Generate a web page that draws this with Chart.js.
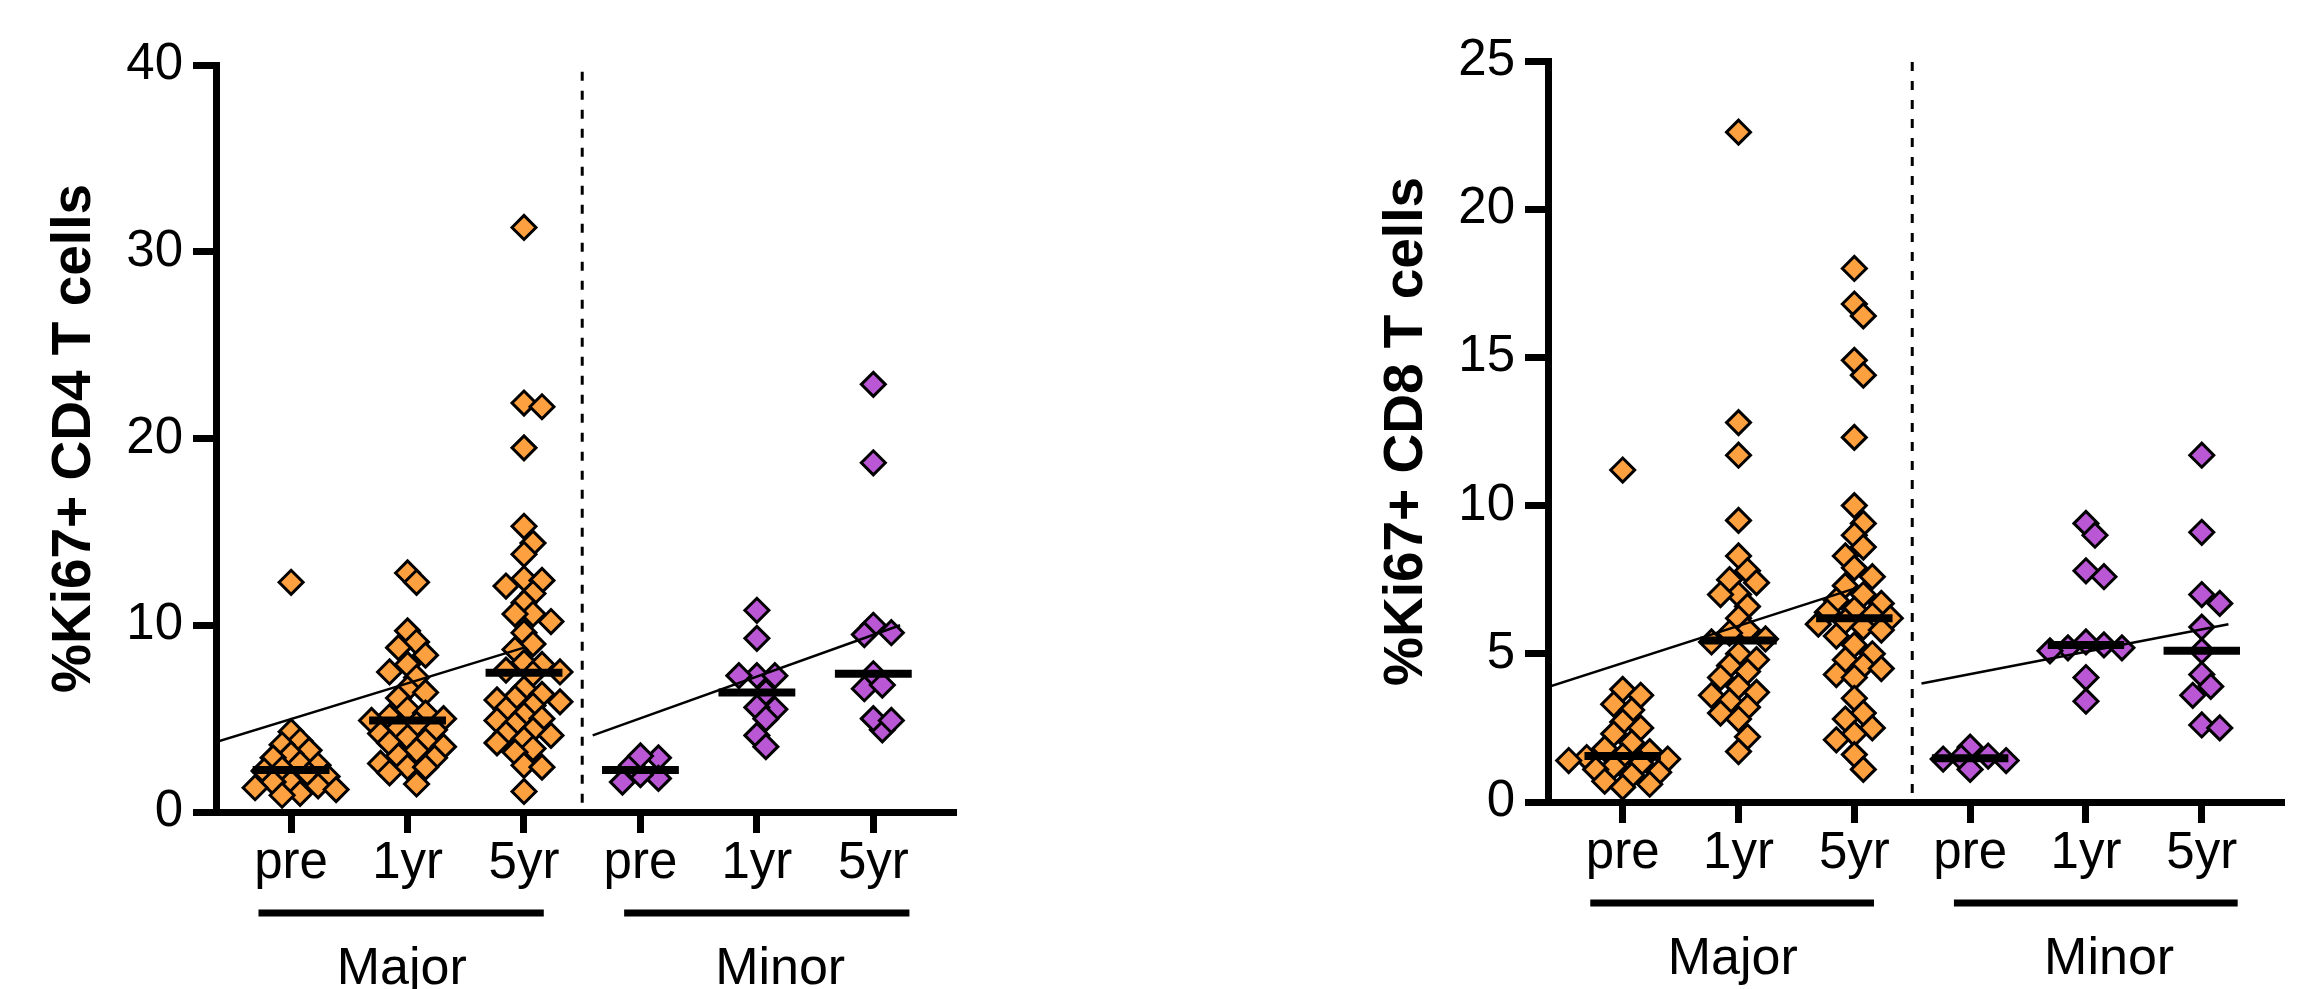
<!DOCTYPE html>
<html>
<head>
<meta charset="utf-8">
<script src="https://cdn.jsdelivr.net/npm/chart.js@4.4.1/dist/chart.umd.min.js"></script>
<style>
  html, body { margin: 0; padding: 0; background: #fff; }
  body { width: 2299px; height: 989px; position: relative; overflow: hidden; }
  canvas { position: absolute; top: 0; }
  #cd4 { left: 0; }
  #cd8 { left: 1332px; }
</style>
</head>
<body>
<canvas id="cd4" width="971" height="989"></canvas>
<canvas id="cd8" width="967" height="989"></canvas>
<script>
//
// Data
//

var timepoints = ['pre', '1yr', '5yr', 'pre', '1yr', '5yr'];
var groups = ['Major', 'Minor'];

// %Ki67+ CD4 T cells
var cd4MajorPre = [12.3, 4.3, 3.8, 3.6, 3.3, 3.1, 2.9, 2.6, 2.5, 2.3, 2.2, 2.0, 1.9, 1.6, 1.6, 1.4, 1.3, 1.2, 1.0, 0.9];
var cd4Major1yr = [12.8, 12.3, 9.7, 9.1, 8.8, 8.4, 7.9, 7.5, 7.2, 6.6, 6.4, 6.1, 5.5, 5.3, 5.1, 5.0, 4.9, 4.7, 4.5, 4.4, 4.2, 4.0, 3.8, 3.7, 3.5, 3.3, 3.0, 2.9, 2.6, 2.4, 2.4, 2.1, 1.5];
var cd4Major5yr = [31.3, 21.9, 21.7, 19.5, 15.3, 14.4, 13.8, 12.5, 12.4, 12.1, 11.7, 11.2, 10.6, 10.6, 10.2, 9.6, 9.0, 8.7, 8.0, 7.9, 7.6, 7.5, 7.4, 6.6, 6.3, 6.1, 6.0, 5.9, 5.7, 5.5, 5.2, 5.0, 4.9, 4.7, 4.4, 4.2, 4.1, 3.9, 3.7, 3.4, 3.2, 2.5, 2.4, 1.1];
var cd4MinorPre = [2.9, 1.8, 2.0, 2.5, 3.0, 1.6];
var cd4Minor1yr = [10.8, 9.3, 7.3, 7.3, 7.3, 6.4, 5.5, 5.6, 5.0, 4.1, 3.5];
var cd4Minor5yr = [22.9, 18.7, 9.6, 10.0, 9.5, 7.4, 6.6, 6.8, 4.4, 5.0, 4.9];
// trend lines: [start, end] values
var cd4TrendMajor = [3.75, 8.8];
var cd4TrendMinor = [4.1, 10.0];

// %Ki67+ CD8 T cells
var cd8MajorPre = [11.2, 3.8, 3.6, 3.3, 3.1, 2.7, 2.5, 2.3, 2.0, 1.8, 1.7, 1.55, 1.5, 1.45, 1.4, 1.3, 1.2, 1.1, 1.0, 0.9, 0.7, 0.6, 0.5];
var cd8Major1yr = [22.6, 12.8, 11.7, 9.5, 8.3, 7.8, 7.5, 7.4, 7.0, 7.0, 6.6, 6.2, 5.8, 5.7, 5.5, 5.4, 5.0, 4.8, 4.6, 4.4, 4.2, 3.9, 3.7, 3.6, 3.4, 3.2, 3.0, 2.8, 2.2, 1.7];
var cd8Major5yr = [18.0, 16.8, 16.4, 14.9, 14.4, 12.3, 10.0, 9.4, 9.0, 8.6, 8.3, 7.9, 7.6, 7.3, 7.0, 6.8, 6.7, 6.5, 6.4, 6.3, 6.2, 6.1, 6.0, 5.9, 5.8, 5.6, 5.3, 5.0, 4.8, 4.6, 4.5, 4.3, 4.2, 3.5, 3.0, 2.8, 2.5, 2.3, 2.1, 1.6, 1.1];
var cd8MinorPre = [1.4, 1.85, 1.45, 1.5, 1.1, 1.55];
var cd8Minor1yr = [9.4, 9.0, 7.8, 7.6, 5.2, 5.4, 5.1, 5.3, 5.2, 4.2, 3.4];
var cd8Minor5yr = [11.7, 9.1, 7.0, 6.7, 5.9, 5.1, 4.3, 3.9, 3.6, 2.6, 2.5];
var cd8TrendMajor = [3.88, 7.2];
var cd8TrendMinor = [4.0, 6.0];


//
// Settings
//

var ORANGE = '#FDA040';
var PURPLE = '#BA57D4';
var X_MIN = -0.645;
var X_MAX = 5.71;
var FONT = '"Liberation Sans", Arial, sans-serif';

Chart.defaults.font.family = FONT;
Chart.defaults.color = '#000';


//
// Methods
//

function median(values) {
	var s = values.slice().sort(function (a, b) { return a - b; });
	var n = s.length;
	return n % 2 ? s[(n - 1) / 2] : (s[n / 2 - 1] + s[n / 2]) / 2;
}

// spread the points of one column sideways so the diamonds do not pile up
function swarm(values, column, pxCat, pxUnit) {
	var step = 9, minDist = 18;
	var placed = [];
	var out = new Array(values.length);
	var order = values.map(function (v, i) { return i; })
		.sort(function (a, b) { return values[b] - values[a]; });

	order.forEach(function (i) {
		var py = values[i] * pxUnit;
		for (var k = 0; k < 60; k++) {
			var dx = k === 0 ? 0 : Math.ceil(k / 2) * step * (k % 2 ? 1 : -1);
			var free = placed.every(function (p) {
				return Math.abs(p.x - dx) + Math.abs(p.y - py) >= minDist;
			});
			if (free) {
				placed.push({ x: dx, y: py });
				out[i] = { x: column + dx / pxCat, y: values[i] };
				break;
			}
		}
	});
	return out;
}

var groupLabels = {
	id: 'groupLabels',
	afterDraw: function (chart, args, opts) {
		var ctx = chart.ctx;
		var x = chart.scales.x;
		var base = chart.chartArea.bottom;
		ctx.save();
		ctx.strokeStyle = '#000';
		ctx.fillStyle = '#000';
		ctx.lineWidth = 7;
		opts.spans.forEach(function (s) {
			ctx.beginPath();
			ctx.moveTo(x.getPixelForValue(s[0]), base + 101);
			ctx.lineTo(x.getPixelForValue(s[1]), base + 101);
			ctx.stroke();
		});
		ctx.font = '52px ' + FONT;
		ctx.textAlign = 'center';
		ctx.textBaseline = 'alphabetic';
		groups.forEach(function (g, i) {
			ctx.fillText(g, x.getPixelForValue(opts.centers[i]), base + 172);
		});
		ctx.restore();
	}
};

function initChart(id, cfg) {
	var datasets = [];

	// median bars
	cfg.columns.forEach(function (vals, i) {
		var m = median(vals);
		datasets.push({
			type: 'line',
			data: [{ x: i - 0.33, y: m }, { x: i + 0.33, y: m }],
			borderColor: '#000',
			borderWidth: 8,
			pointRadius: 0
		});
	});

	// trend lines
	datasets.push({
		type: 'line',
		data: [{ x: X_MIN, y: cfg.trendMajor[0] }, { x: 2, y: cfg.trendMajor[1] }],
		borderColor: '#000', borderWidth: 2.5, pointRadius: 0
	});
	datasets.push({
		type: 'line',
		data: [{ x: cfg.minorStart, y: cfg.trendMinor[0] }, { x: 5.23, y: cfg.trendMinor[1] }],
		borderColor: '#000', borderWidth: 2.5, pointRadius: 0
	});

	// group divider
	datasets.push({
		type: 'line',
		data: [{ x: 2.5, y: cfg.dividerFrom }, { x: 2.5, y: cfg.yMax }],
		borderColor: '#000', borderWidth: 3, borderDash: [9, 10], pointRadius: 0
	});

	var firstPoints = datasets.length;
	cfg.columns.forEach(function (vals, i) {
		datasets.push({
			type: 'scatter',
			data: vals.map(function (v) { return { x: i, y: v }; }),
			pointStyle: 'rectRot',
			pointRadius: 12,
			backgroundColor: i < 3 ? ORANGE : PURPLE,
			borderColor: '#000',
			borderWidth: 3,
			clip: false
		});
	});

	var chart = new Chart(document.getElementById(id), {
		type: 'scatter',
		data: { datasets: datasets },
		plugins: [groupLabels],
		options: {
			responsive: false,
			animation: false,
			events: [],
			layout: { padding: { left: 0, right: 5, top: cfg.top, bottom: 0 } },
			plugins: {
				legend: { display: false },
				tooltip: { enabled: false },
				groupLabels: {
					spans: [[-0.28, 2.17], [2.86, 5.31]],
					centers: [0.95, 4.2]
				}
			},
			scales: {
				x: {
					type: 'linear',
					min: X_MIN,
					max: X_MAX,
					afterBuildTicks: function (scale) {
						scale.ticks = timepoints.map(function (t, i) { return { value: i }; });
					},
					afterFit: function (scale) { scale.height = 989 - cfg.bottom; },
					ticks: {
						padding: 0,
						font: { size: 51 },
						callback: function (v) { return timepoints[v]; }
					},
					grid: {
						drawOnChartArea: false,
						drawTicks: true,
						tickLength: 21,
						tickWidth: 7,
						tickColor: '#000'
					},
					border: { display: true, width: 7, color: '#000' }
				},
				y: {
					min: 0,
					max: cfg.yMax,
					afterFit: function (scale) { scale.width = 216; },
					ticks: {
						stepSize: cfg.step,
						padding: 10,
						font: { size: 51 }
					},
					grid: {
						drawOnChartArea: false,
						drawTicks: true,
						tickLength: 23,
						tickWidth: 7,
						tickColor: '#000'
					},
					border: { display: true, width: 7, color: '#000' },
					title: {
						display: true,
						text: cfg.title,
						font: { size: 55, weight: 'bold' },
						padding: { top: 42 }
					}
				}
			}
		}
	});

	// lay the points out as a swarm now that the scales exist
	var xs = chart.scales.x, ys = chart.scales.y;
	var pxCat = xs.getPixelForValue(1) - xs.getPixelForValue(0);
	var pxUnit = ys.getPixelForValue(0) - ys.getPixelForValue(1);
	cfg.columns.forEach(function (vals, i) {
		chart.data.datasets[firstPoints + i].data = swarm(vals, i, pxCat, pxUnit);
	});
	chart.update('none');

	return chart;
}


initChart('cd4', {
	title: '%Ki67+ CD4 T cells',
	columns: [cd4MajorPre, cd4Major1yr, cd4Major5yr, cd4MinorPre, cd4Minor1yr, cd4Minor5yr],
	trendMajor: cd4TrendMajor,
	trendMinor: cd4TrendMinor,
	minorStart: 2.59,
	yMax: 40,
	step: 10,
	dividerFrom: 0.5,
	top: 65,
	bottom: 812
});

initChart('cd8', {
	title: '%Ki67+ CD8 T cells',
	columns: [cd8MajorPre, cd8Major1yr, cd8Major5yr, cd8MinorPre, cd8Minor1yr, cd8Minor5yr],
	trendMajor: cd8TrendMajor,
	trendMinor: cd8TrendMinor,
	minorStart: 2.58,
	yMax: 25,
	step: 5,
	dividerFrom: 0.3,
	top: 61,
	bottom: 802
});
</script>
</body>
</html>
